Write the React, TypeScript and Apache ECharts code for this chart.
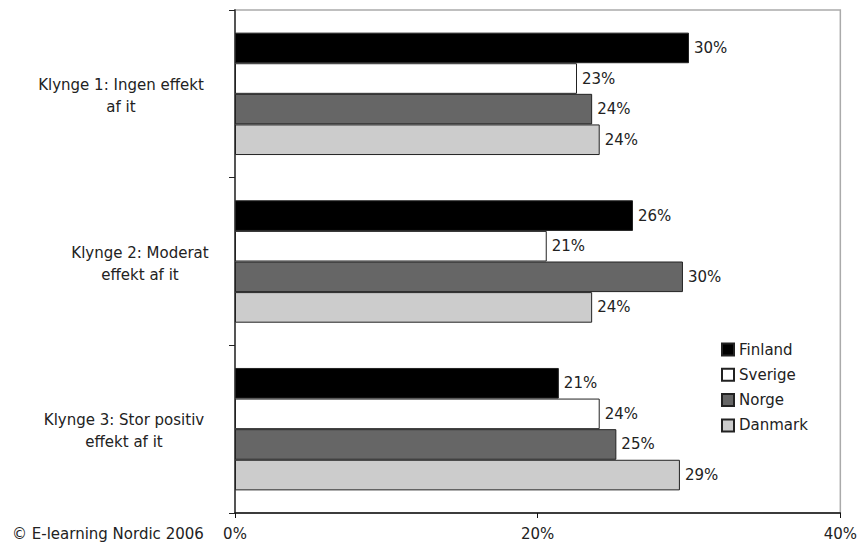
import React, { useEffect, useRef } from "react";
import * as echarts from "echarts";

const categories = ["Klynge 1: Ingen effekt\naf it", "Klynge 2: Moderat\neffekt af it", "Klynge 3: Stor positiv\neffekt af it"];
const seriesNames = ["Finland", "Sverige", "Norge", "Danmark"];
const finland = [30.0, 26.3, 21.4];
const sverige = [22.6, 20.6, 24.1];
const norge = [23.6, 29.6, 25.2];
const danmark = [24.1, 23.6, 29.4];
const xTicks = [0, 20, 40];
const sourceNote = "© E-learning Nordic 2006";

const seriesData = [finland, sverige, norge, danmark];
const seriesColors = ["#000000", "#ffffff", "#666666", "#cccccc"];
const FONT = "'DejaVu Sans', Verdana, sans-serif";

export default function App() {
  const ref = useRef<HTMLDivElement>(null);
  useEffect(() => {
    document.body.style.margin = "0";
    if (!ref.current) return;
    const chart = echarts.init(ref.current, null, { renderer: "svg" });
    const blockWidths = [196, 158, 190];
    const rich: Record<string, any> = {};
    blockWidths.forEach((w, i) => {
      rich["c" + i] = { width: w, align: "center", fontSize: 15, lineHeight: 22, color: "#222", fontFamily: FONT };
    });
    chart.setOption({
      animation: false,
      textStyle: { fontFamily: FONT },
      grid: {
        left: 235,
        right: 19,
        top: 10,
        bottom: 29,
        show: true,
        borderColor: "#aaaaaa",
        borderWidth: 1.5,
        backgroundColor: "transparent",
      },
      legend: {
        orient: "vertical",
        left: 721,
        top: 342,
        padding: 0,
        itemWidth: 12,
        itemHeight: 12,
        itemGap: 10.3,
        icon: "rect",
        data: seriesNames,
        textStyle: { fontSize: 15, lineHeight: 15, color: "#222", fontFamily: FONT },
      },
      xAxis: {
        type: "value",
        min: xTicks[0],
        max: xTicks[xTicks.length - 1],
        interval: xTicks[1] - xTicks[0],
        splitLine: { show: false },
        axisLine: { show: true, lineStyle: { color: "#111", width: 1.5 } },
        axisTick: { show: true, length: 5, lineStyle: { color: "#111" } },
        axisLabel: {
          formatter: "{value}%",
          fontSize: 15,
          color: "#222",
          margin: 13,
          fontFamily: FONT,
        },
      },
      yAxis: {
        type: "category",
        inverse: true,
        data: categories,
        axisLine: { show: true, lineStyle: { color: "#555", width: 2 } },
        axisTick: { show: true, length: 6, lineStyle: { color: "#222" } },
        axisLabel: {
          margin: 16,
          align: "right",
          padding: [4, 0, 0, 0],
          formatter: (value: string, idx: number) =>
            value
              .split("\n")
              .map((line) => `{c${idx}|${line}}`)
              .join("\n"),
          rich,
        },
      },
      graphic: [
        {
          type: "text",
          left: 12,
          top: 526,
          style: { text: sourceNote, fontSize: 15, fill: "#222", fontFamily: FONT },
        },
      ],
      series: seriesNames.map((name, i) => ({
        name,
        type: "bar",
        data: seriesData[i],
        barGap: "0%",
        barCategoryGap: "27%",
        itemStyle: { color: seriesColors[i], borderColor: "#222", borderWidth: 1 },
        label: {
          show: true,
          position: "right",
          distance: 5,
          formatter: (p: any) => Math.round(p.value) + "%",
          fontSize: 15,
          color: "#222",
          fontFamily: FONT,
        },
      })),
    });
    return () => chart.dispose();
  }, []);
  return <div ref={ref} style={{ width: 860, height: 542 }} />;
}
